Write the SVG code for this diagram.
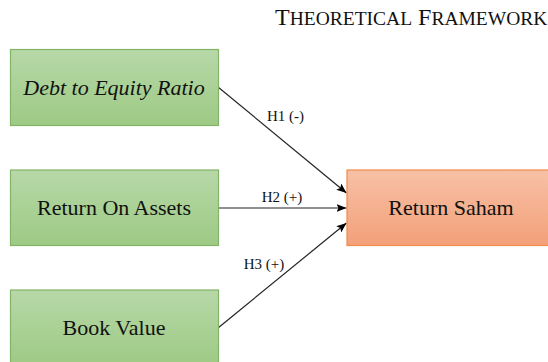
<svg xmlns="http://www.w3.org/2000/svg" width="548" height="362" viewBox="0 0 548 362">
<defs>
<linearGradient id="gG" x1="0" y1="0" x2="0" y2="1"><stop offset="0" stop-color="#b7d8a8"/><stop offset="1" stop-color="#9dca84"/></linearGradient>
<linearGradient id="gO" x1="0" y1="0" x2="0" y2="1"><stop offset="0" stop-color="#f7c1a6"/><stop offset="1" stop-color="#f3a078"/></linearGradient>
<marker id="arr" viewBox="0 0 10 8" refX="10" refY="4" markerWidth="10" markerHeight="8" markerUnits="userSpaceOnUse" orient="auto"><path d="M0,0 L10,4 L0,8 L2,4 z" fill="#000"/></marker>
</defs>
<style>
.g{fill:url(#gG);stroke:#82b366;stroke-width:1.2}
.o{fill:url(#gO);stroke:#f08a4b;stroke-width:1.2}
text{font-family:'Liberation Serif','Times New Roman',serif;fill:#111}
.t{font-size:22px;text-anchor:middle}
.l{font-size:15px;text-anchor:middle}
.c{stroke:#222;stroke-width:1.2;fill:none;marker-end:url(#arr)}
.sc{font-size:19.5px}
</style>
<text x="275" y="25" font-size="24">T<tspan class="sc">HEORETICAL</tspan> F<tspan class="sc">RAMEWORK</tspan></text>
<g id="connectors">
<line class="c" x1="218" y1="87" x2="346.5" y2="193"/>
<line class="c" x1="218" y1="208" x2="346.5" y2="208"/>
<line class="c" x1="218" y1="328" x2="346.5" y2="223"/>
<text class="l" x="285.5" y="121">H1 (-)</text>
<text class="l" x="282" y="202">H2 (+)</text>
<text class="l" x="264" y="269">H3 (+)</text>
</g>
<g id="der"><rect class="g" x="10.5" y="49.5" width="208" height="76"/><text class="t" x="114" y="95" font-style="italic">Debt to Equity Ratio</text></g>
<g id="roa"><rect class="g" x="10.5" y="170" width="208" height="75.5"/><text class="t" x="114" y="215">Return On Assets</text></g>
<g id="bv"><rect class="g" x="10.5" y="290" width="208" height="76"/><text class="t" x="114" y="335">Book Value</text></g>
<g id="rs"><rect class="o" x="347" y="170" width="208" height="75.5"/><text class="t" x="451" y="215">Return Saham</text></g>
</svg>
